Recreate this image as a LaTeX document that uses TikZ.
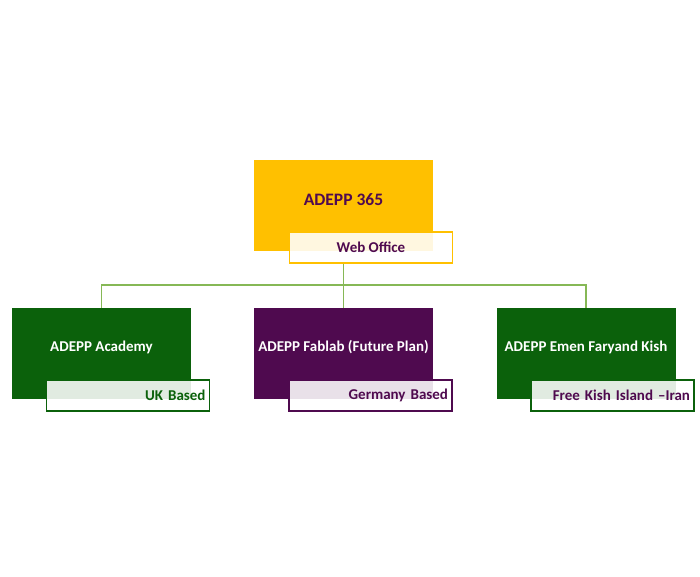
\documentclass[tikz,border=0pt]{standalone}
\usepackage{fontspec}
\setmainfont{Carlito}
\definecolor{yel}{HTML}{FFC000}
\definecolor{pur}{HTML}{4F0A4F}
\definecolor{grn}{HTML}{0B610B}
\definecolor{conn}{HTML}{86B856}
\begin{document}
\begin{tikzpicture}[x=1pt,y=-1pt,
  mainbox/.style={draw=none, minimum width=179pt, minimum height=91pt, inner sep=0pt,
    font=\bfseries\fontsize{15}{17}\selectfont},
  tagbox/.style={draw=#1, line width=1.4pt, fill=white, fill opacity=0.88, text opacity=1,
    minimum width=163pt, minimum height=31pt, inner xsep=4pt, inner ysep=0pt,
    font=\bfseries\fontsize{15}{17}\selectfont},
  connline/.style={draw=conn, line width=1.6pt}]
\useasboundingbox[fill=white] (0,0) rectangle (700,577);
% main boxes
\node[mainbox, fill=yel, text=pur, font=\bfseries\fontsize{17.5}{20}\selectfont] (top) at (343.5,205.5) {\raisebox{6pt}[\height][\depth]{ADEPP 365}};
\node[mainbox, fill=grn, text=white] (acad) at (101.5,353.5) {\raisebox{6pt}[\height][\depth]{ADEPP Academy}};
\node[mainbox, fill=pur, text=white] (fab) at (343.5,353.5) {\raisebox{6pt}[\height][\depth]{ADEPP Fablab (Future Plan)}};
\node[mainbox, fill=grn, text=white] (kish) at (586,353.5) {\raisebox{6pt}[\height][\depth]{ADEPP Emen Faryand Kish}};
% tags
\node[tagbox=yel, text=pur] (web) at (371,247.5) {Web Office};
\node[tagbox=grn, text=grn, text width=155pt, align=right] (uk) at (128,395.5) {UK Based};
\node[tagbox=pur, text=pur, text width=155pt, align=right] (ger) at (370.5,395.5) {Germany Based};
\node[tagbox=grn, text=pur, text width=155pt, align=right] (iran) at (612.5,395.5) {Free Kish Island –Iran};
% connectors
\coordinate (j) at (343.5,285);
\draw[connline] (web.south -| top.center) -- (fab.north);
\draw[connline] (acad.north) |- (j) -| (kish.north);
\end{tikzpicture}
\end{document}
